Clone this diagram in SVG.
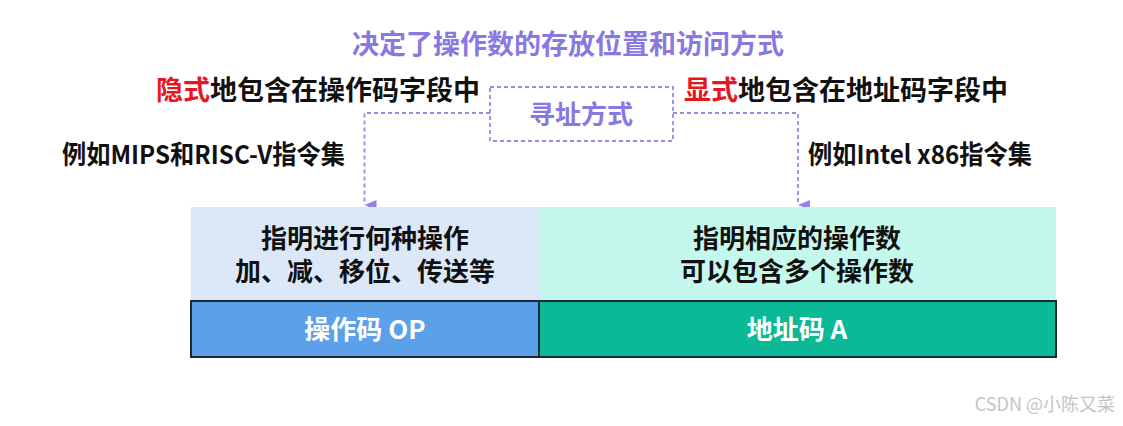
<svg xmlns="http://www.w3.org/2000/svg" width="1123" height="426" viewBox="0 0 1123 426">
<style>
text{font-family:"Noto Sans CJK SC","Noto Sans",sans-serif;font-weight:bold;}
.purple{fill:#8778e2;}
.black{fill:#111;}
.red{fill:#e8141e;}
.ex{font-family:"Noto Sans CJK SC",sans-serif;font-size:26px;fill:#111;}
.white{fill:#fff;font-size:26px;}
.dash{fill:none;stroke:#968ae6;stroke-width:1.8;stroke-dasharray:4 3;}
.field{stroke:#1b2b33;stroke-width:2;}
</style>
<defs>
<marker id="arr" viewBox="0 0 10 12" refX="5" refY="12" markerWidth="10" markerHeight="12" markerUnits="userSpaceOnUse" orient="auto-start-reverse">
<path d="M0,0 L10,0 L5,12 Z" fill="#8f84ea"/>
</marker>
</defs>
<rect width="1123" height="426" fill="#fff"/>
<text id="title" class="purple" x="568" y="54" font-size="27" text-anchor="middle">决定了操作数的存放位置和访问方式</text>
<g id="implicit">
<text x="156" y="100" font-size="27" class="black"><tspan class="red">隐式</tspan>地包含在操作码字段中</text>
<text x="62" y="164" class="ex" textLength="283" lengthAdjust="spacingAndGlyphs">例如MIPS和RISC-V指令集</text>
</g>
<g id="explicit">
<text x="684" y="100" font-size="27" class="black"><tspan class="red">显式</tspan>地包含在地址码字段中</text>
<text x="808" y="164" class="ex" textLength="224" lengthAdjust="spacingAndGlyphs">例如Intel x86指令集</text>
</g>
<g id="addressing">
<rect x="490" y="87" width="183" height="54" class="dash"/>
<text x="581" y="124" font-size="26" class="purple" text-anchor="middle">寻址方式</text>
</g>
<g id="connectors">
<path d="M490,113 H364.5 V205" class="dash" marker-end="url(#arr)"/>
<path d="M673,113 H798 V205" class="dash" marker-end="url(#arr)"/>
</g>
<g id="op-desc">
<rect x="191" y="207" width="348" height="94" fill="#dce8f8"/>
<text x="365" y="248" font-size="26" class="black" text-anchor="middle">指明进行何种操作</text>
<text x="365" y="281" font-size="26" class="black" text-anchor="middle">加、减、移位、传送等</text>
</g>
<g id="a-desc">
<rect x="539" y="207" width="517" height="94" fill="#c5f8ec"/>
<text x="797" y="248" font-size="26" class="black" text-anchor="middle">指明相应的操作数</text>
<text x="797" y="281" font-size="26" class="black" text-anchor="middle">可以包含多个操作数</text>
</g>
<g id="op-field">
<rect x="191" y="301" width="348" height="56" fill="#5ba0e8" class="field"/>
<text x="365" y="339" class="white" text-anchor="middle">操作码 OP</text>
</g>
<g id="a-field">
<rect x="539" y="301" width="517" height="56" fill="#0cb996" class="field"/>
<text x="797" y="339" class="white" text-anchor="middle">地址码 A</text>
</g>
<text id="watermark" x="1115" y="411" font-size="18" fill="#c4c4c4" text-anchor="end" style="font-weight:normal">CSDN @小陈又菜</text>
</svg>
